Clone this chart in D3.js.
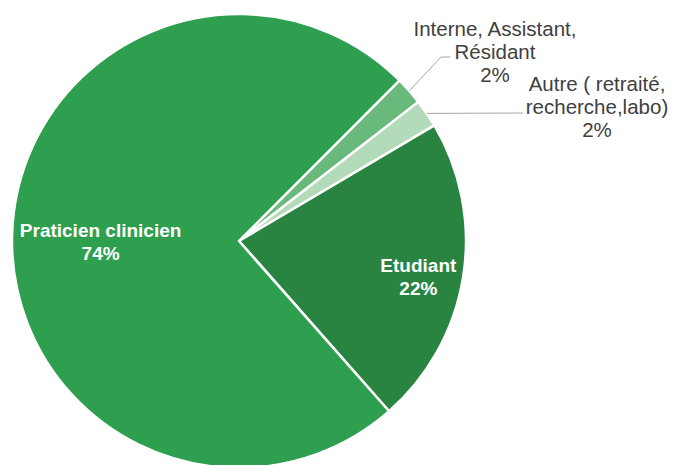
<!DOCTYPE html>
<html>
<head>
<meta charset="utf-8">
<script src="https://cdn.jsdelivr.net/npm/d3@7"></script>
<style>
  html, body { margin: 0; padding: 0; background: #fff; }
  svg { display: block; font-family: "Liberation Sans", Arial, sans-serif; }
</style>
</head>
<body>
<svg id="chart" width="674" height="465"></svg>
<script>
// Categories, in drawing order clockwise from the start angle
const categories = ["Interne, Assistant, Résidant", "Autre ( retraité, recherche,labo)", "Etudiant", "Praticien clinicien"];
const values = [2, 2, 22, 74];
const labelLines = [
  ["Interne, Assistant,", "Résidant", "2%"],
  ["Autre ( retraité,", "recherche,labo)", "2%"],
  ["Etudiant", "22%"],
  ["Praticien clinicien", "74%"]
];
const colors = ["#69b97d", "#b3dbb9", "#2a8441", "#2e9f4f"];

const svg = d3.select("#chart");
const cx = 239, cy = 241, R = 227;
const g = svg.append("g").attr("transform", `translate(${cx},${cy})`);

const pie = d3.pie().sort(null).value(d => d)
  .startAngle(Math.PI / 4).endAngle(Math.PI / 4 + 2 * Math.PI);
const arcs = pie(values);
const arc = d3.arc().innerRadius(0).outerRadius(R);

g.selectAll("path.slice").data(arcs).enter().append("path")
  .attr("class", "slice")
  .attr("d", arc)
  .attr("fill", (d, i) => colors[i])
  .attr("stroke", "#fff")
  .attr("stroke-width", 2.5)
  .attr("stroke-linejoin", "round");

const mid = d => (d.startAngle + d.endAngle) / 2;
const polar = (a, r) => [r * Math.sin(a), -r * Math.cos(a)];
const lineGap = 23;

// Inside labels (large slices): a two-line block centred on a point in the slice
const inside = { 2: { r: 0.8, dy: 7 }, 3: { r: 0.61, dy: 5 } };
arcs.forEach((d, i) => {
  if (!(i in inside)) return;
  const [x, y0] = polar(mid(d), R * inside[i].r);
  const y = y0 + inside[i].dy - 4.5;
  const t = g.append("text")
    .attr("x", x).attr("y", y)
    .attr("text-anchor", "middle")
    .attr("fill", "#fff")
    .attr("font-weight", "bold")
    .attr("font-size", 19);
  labelLines[i].forEach((line, k) => {
    t.append("tspan").attr("x", x).attr("dy", k === 0 ? 0 : lineGap).text(line);
  });
});

// Outside labels with leader lines (small slices)
const outside = [
  { i: 0, elbow: [441 - cx, 57 - cy], end: [450 - cx, 57 - cy], tx: 495 - cx, ty: 35.5 - cy },
  { i: 1, elbow: null, end: [523 - cx, 113 - cy], tx: 597 - cx, ty: 90.5 - cy }
];
outside.forEach(o => {
  const d = arcs[o.i];
  const p0 = polar(mid(d), R);
  const pts = [p0];
  if (o.elbow) pts.push(o.elbow);
  pts.push(o.end);
  g.append("path")
    .attr("d", d3.line()(pts))
    .attr("fill", "none")
    .attr("stroke", "#a6a6a6")
    .attr("stroke-width", 1);
  const t = g.append("text")
    .attr("x", o.tx).attr("y", o.ty)
    .attr("text-anchor", "middle")
    .attr("fill", "#404040")
    .attr("font-size", 20.5);
  labelLines[o.i].forEach((line, k) => {
    t.append("tspan").attr("x", o.tx).attr("dy", k === 0 ? 0 : lineGap).text(line);
  });
});
</script>
</body>
</html>
